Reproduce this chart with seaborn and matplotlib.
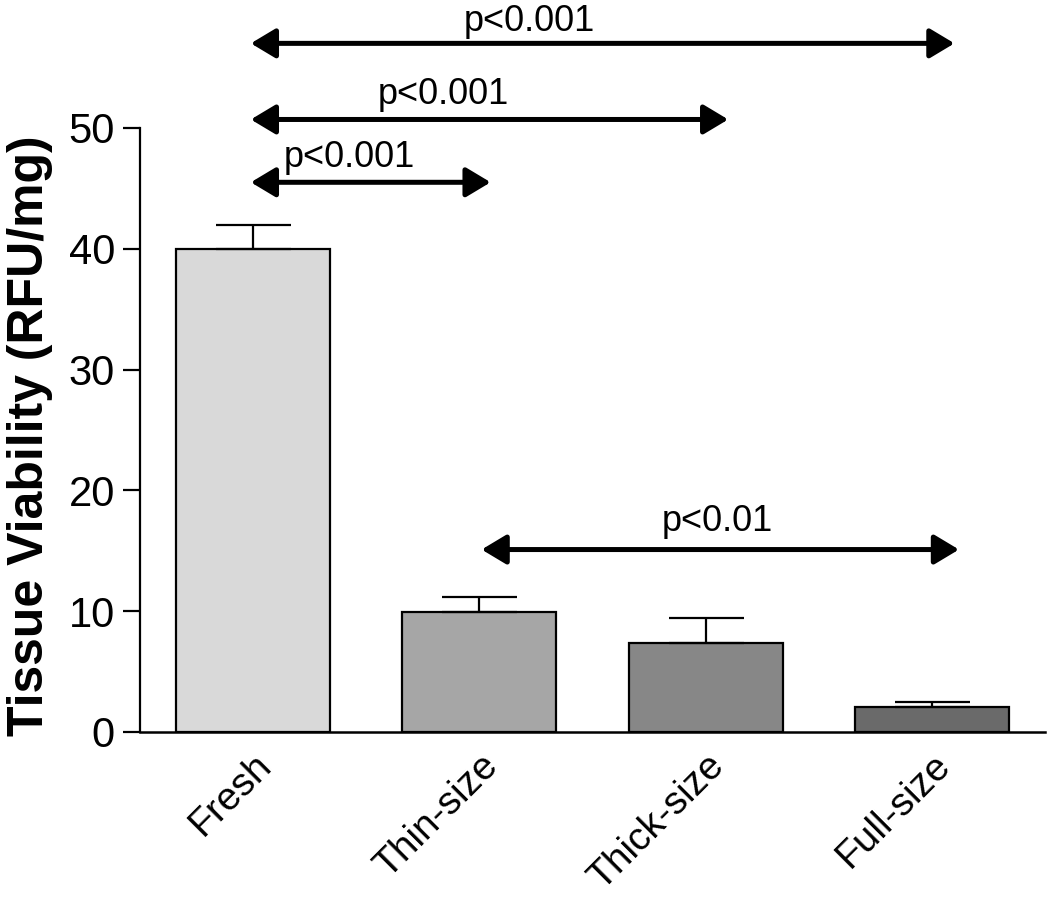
import numpy as np
import matplotlib
matplotlib.use('Agg')
import matplotlib.pyplot as plt
import seaborn as sns

# data
groups = ['Fresh', 'Thin-size', 'Thick-size', 'Full-size']
viability = [40.0, 9.9, 7.35, 2.1]
sem = [2.0, 1.25, 2.1, 0.35]
bar_colors = ['#d9d9d9', '#a6a6a6', '#878787', '#6a6a6a']

# significance comparisons: (from group, to group, p label)
comparisons = [
    ('Fresh', 'Full-size', 'p<0.001'),
    ('Fresh', 'Thick-size', 'p<0.001'),
    ('Fresh', 'Thin-size', 'p<0.001'),
    ('Thin-size', 'Full-size', 'p<0.01'),
]

sns.set_style('white')
plt.rcParams['font.family'] = ['Liberation Sans', 'DejaVu Sans']
plt.rcParams.update({'text.color': 'black', 'axes.labelcolor': 'black',
                     'xtick.color': 'black', 'ytick.color': 'black',
                     'axes.edgecolor': 'black'})

fig = plt.figure(figsize=(10.5, 8.99), dpi=100)
ax = fig.add_axes([0.1333, 0.1858, 0.8619, 0.6719])

sns.barplot(x=groups, y=viability, hue=groups, palette=bar_colors,
            legend=False, edgecolor='black', linewidth=1.6,
            width=0.68, errorbar=None, ax=ax)
ax.errorbar(np.arange(len(groups)), viability,
            yerr=[np.zeros(len(sem)), sem], fmt='none', ecolor='black',
            elinewidth=1.6, capsize=27, capthick=1.6, zorder=3)

ax.set_xlim(-0.5, 3.5)
ax.set_ylim(0, 50)
ax.set_yticks([0, 10, 20, 30, 40, 50])
ax.tick_params(axis='y', direction='out', length=12, width=1.6,
               pad=6, labelsize=30, left=True)
ax.tick_params(axis='x', length=0, pad=11, labelsize=28)
for lab in ax.get_xticklabels():
    lab.set_rotation(45)
    lab.set_ha('right')
    lab.set_rotation_mode('anchor')

sns.despine(ax=ax)
ax.spines['left'].set_bounds(0, 50)
ax.spines['left'].set_linewidth(1.6)
ax.spines['bottom'].set_linewidth(1.8)

ax.set_ylabel('Tissue Viability (RFU/mg)', fontsize=36, fontweight='bold',
              va='center')
ax.yaxis.set_label_coords(-0.121, 0.49)

# bracket arrows with labels
arrow_y = [57.0, 50.7, 45.5, 15.1]
arrow_off = [(-0.01, 0.10), (-0.01, 0.10), (-0.01, 0.05), (0.01, 0.12)]
label_x = [1.22, 0.84, 0.425, 2.05]
label_y = [58.0, 52.0, 46.8, 16.6]
for (a, b, txt), y, (oa, ob), lx, ly in zip(comparisons, arrow_y, arrow_off,
                                              label_x, label_y):
    xa = groups.index(a) + oa
    xb = groups.index(b) + ob
    ax.annotate('', xy=(xb, y), xytext=(xa, y),
                arrowprops=dict(arrowstyle='<|-|>,head_length=0.5,head_width=0.3',
                                mutation_scale=30, lw=3.6, color='black',
                                shrinkA=0, shrinkB=0),
                annotation_clip=False)
    ax.text(lx, ly, txt, ha='center', va='baseline', fontsize=26,
            clip_on=False)

fig.savefig('out.png', dpi=100)
